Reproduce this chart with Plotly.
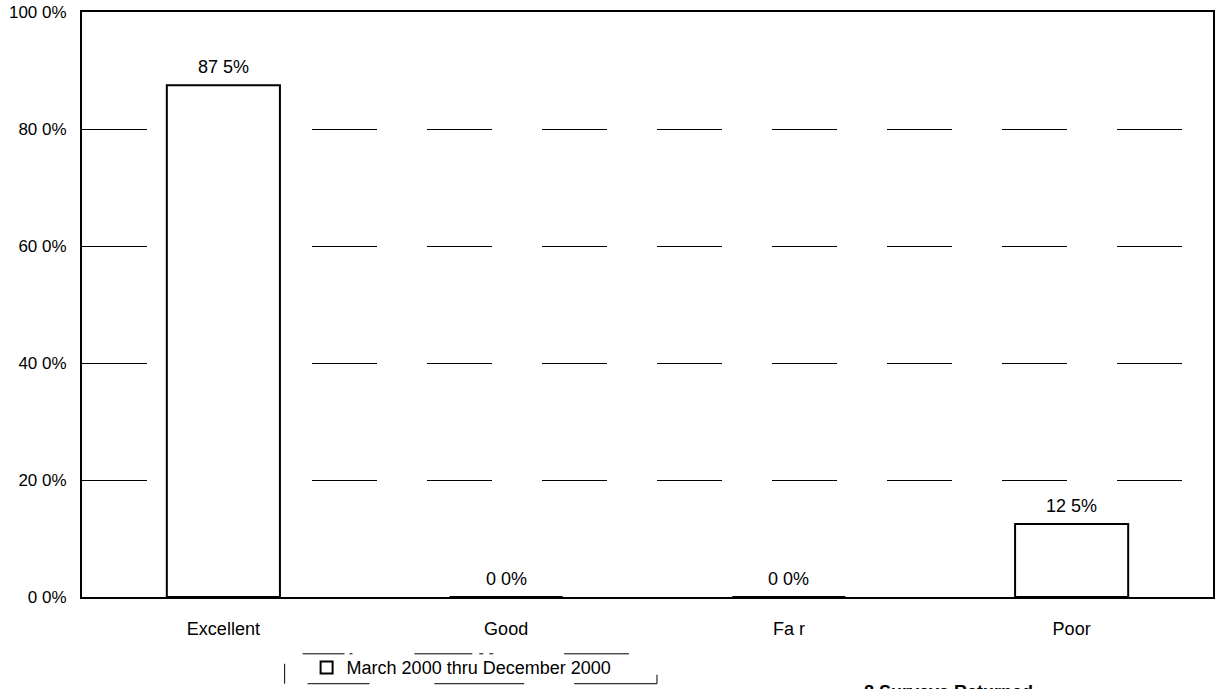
import plotly.graph_objects as go

# Survey response shares
categories = ["Excellent", "Good", "Fa r", "Poor"]
shares = [87.5, 0.0, 0.0, 12.5]
series_name = "March 2000 thru December 2000"
tick_values = [0, 20, 40, 60, 80, 100]
tick_labels = ["0 0%", "20 0%", "40 0%", "60 0%", "80 0%", "100 0%"]
footer = "8 Surveys Returned"

bar_text = [f"{v:.1f}%".replace(".", " ") for v in shares]

FONT = "Liberation Sans, Arial, sans-serif"

# plot area in pixels, used to place the legend frame pieces in paper units
L, R, T, B = 82, 1215, 10, 597


def px(x):
    return (x - L) / (R - L)


def py(y):
    return (B - y) / (B - T)


fig = go.Figure()
fig.add_trace(go.Bar(
    x=categories,
    y=shares,
    name=series_name,
    width=0.40,
    marker=dict(color="white", line=dict(color="black", width=2)),
    showlegend=True,
))

# value labels above the bars
annotations = [
    dict(x=c, y=v, text=t, xref="x", yref="y",
         xanchor="center", yanchor="bottom", yshift=6,
         showarrow=False, font=dict(family=FONT, size=18, color="black"))
    for c, v, t in zip(categories, shares, bar_text)
]
annotations.append(dict(
    text=f"<b>{footer}</b>",
    xref="paper", yref="paper",
    x=px(950), y=py(680),
    xanchor="center", yanchor="top",
    showarrow=False,
    font=dict(family=FONT, size=18, color="black"),
))

# broken frame around the legend
line_style = dict(color="black", width=1)
top_pieces = [(303, 345), (350, 353), (415, 473), (480, 484), (490, 494), (565, 630)]
bottom_pieces = [(308, 370), (435, 525), (575, 658)]
shapes = []
for a, b in top_pieces:
    shapes.append(dict(type="line", xref="paper", yref="paper",
                       x0=px(a), x1=px(b), y0=py(654), y1=py(654), line=line_style))
for a, b in bottom_pieces:
    shapes.append(dict(type="line", xref="paper", yref="paper",
                       x0=px(a), x1=px(b), y0=py(684), y1=py(684), line=line_style))
shapes.append(dict(type="line", xref="paper", yref="paper",
                   x0=px(285), x1=px(285), y0=py(664), y1=py(684), line=line_style))
shapes.append(dict(type="line", xref="paper", yref="paper",
                   x0=px(658), x1=px(658), y0=py(675), y1=py(684), line=line_style))

fig.update_layout(
    width=1218,
    height=689,
    margin=dict(l=L, r=1218 - R, t=T, b=689 - B),
    paper_bgcolor="white",
    plot_bgcolor="white",
    font=dict(family=FONT, size=18, color="black"),
    bargap=0.6,
    showlegend=True,
    legend=dict(
        orientation="h",
        x=px(307), y=py(668),
        xanchor="left", yanchor="middle",
        bgcolor="rgba(0,0,0,0)",
        font=dict(family=FONT, size=18, color="black"),
        itemwidth=30,
    ),
    xaxis=dict(
        showgrid=False,
        showline=True, linecolor="black", linewidth=2,
        mirror=True,
        ticks="",
        tickfont=dict(family=FONT, size=18),
        ticklabelstandoff=14,
    ),
    yaxis=dict(
        range=[0, 100],
        tickvals=tick_values,
        ticktext=tick_labels,
        showgrid=True,
        gridcolor="black",
        gridwidth=1,
        griddash="65px,50px",
        showline=True, linecolor="black", linewidth=2,
        mirror=True,
        ticks="",
        zeroline=False,
        tickfont=dict(family=FONT, size=17),
        ticklabelstandoff=10,
    ),
    annotations=annotations,
    shapes=shapes,
)

fig.write_html("out.html")
